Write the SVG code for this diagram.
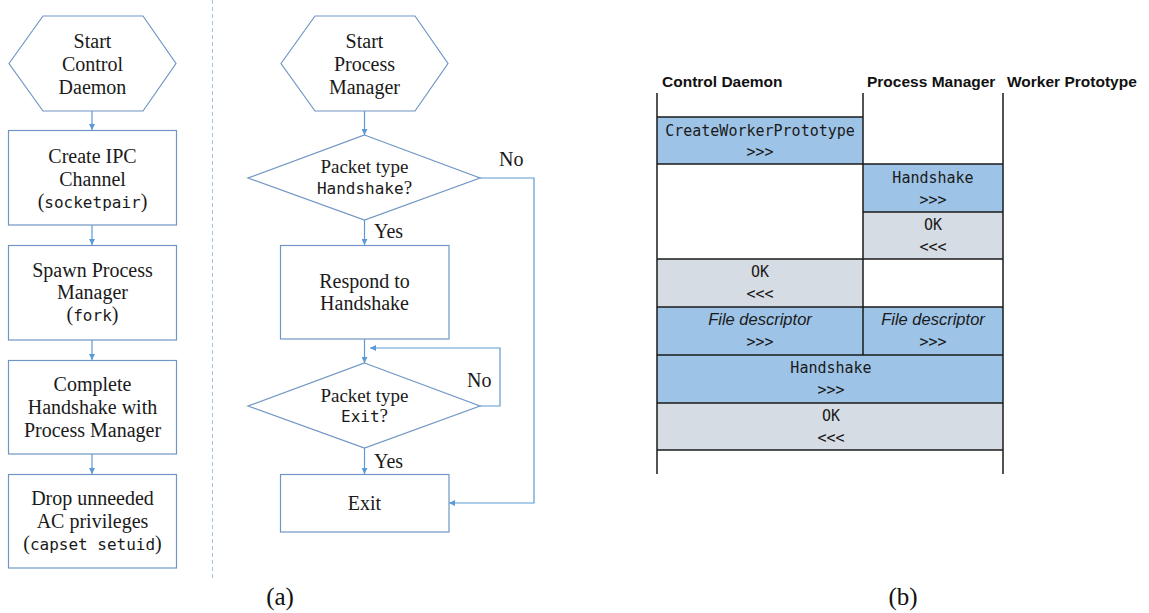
<svg xmlns="http://www.w3.org/2000/svg" width="1149" height="613" viewBox="0 0 1149 613">
<defs>
<marker id="ah" viewBox="0 0 10 10" refX="10" refY="5" markerWidth="6" markerHeight="6" orient="auto" markerUnits="userSpaceOnUse">
<path d="M0,0 L10,5 L0,10 z" fill="#5B9BD5"/>
</marker>
<style>
.shape{fill:#fff;stroke:#7096C4;stroke-width:1.2}
.conn{fill:none;stroke:#5B9BD5;stroke-width:1.2}
.t{font-family:"Liberation Serif","Times New Roman",serif;font-size:20px;fill:#1a1a1a;text-anchor:middle}
.s{font-size:19px}
.m{font-family:"DejaVu Sans Mono","Liberation Mono",monospace;font-size:16px}
.lbl{font-family:"Liberation Serif","Times New Roman",serif;font-size:20px;fill:#1a1a1a}
.hd{font-family:"Liberation Sans","Open Sans",sans-serif;font-weight:bold;font-size:15.5px;fill:#111}
.ct{font-family:"DejaVu Sans Mono","Liberation Mono",monospace;font-size:15px;fill:#1a1a1a;text-anchor:middle}
.it{font-family:"Liberation Sans","Open Sans",sans-serif;font-style:italic;font-size:16.5px;fill:#1a1a1a;text-anchor:middle}
.blue{fill:#9DC3E6}
.gray{fill:#D6DCE4}
.tl{stroke:#1a1a1a;stroke-width:1.5;fill:none}
.cap{font-family:"Liberation Serif","Times New Roman",serif;font-size:25px;fill:#111;text-anchor:middle}
</style>
</defs>
<rect width="1149" height="613" fill="#fff"/>

<!-- separator -->
<line x1="212.5" y1="0" x2="212.5" y2="578" stroke="#9DC3E6" stroke-width="1" stroke-dasharray="4,3"/>

<!-- connectors -->
<g id="connectors">
<line class="conn" x1="92" y1="111" x2="92" y2="130" marker-end="url(#ah)"/>
<line class="conn" x1="92" y1="225" x2="92" y2="245" marker-end="url(#ah)"/>
<line class="conn" x1="92" y1="340" x2="92" y2="360" marker-end="url(#ah)"/>
<line class="conn" x1="92" y1="454" x2="92" y2="474" marker-end="url(#ah)"/>
<line class="conn" x1="364.5" y1="111" x2="364.5" y2="135" marker-end="url(#ah)"/>
<line class="conn" x1="364.5" y1="220" x2="364.5" y2="245" marker-end="url(#ah)"/>
<line class="conn" x1="364.5" y1="339" x2="364.5" y2="363" marker-end="url(#ah)"/>
<line class="conn" x1="364.5" y1="448" x2="364.5" y2="474" marker-end="url(#ah)"/>
<path class="conn" d="M480,406 H500 V348 H370" marker-end="url(#ah)"/>
<path class="conn" d="M480,178 H534 V503 H449" marker-end="url(#ah)"/>
<text class="lbl" x="374" y="238">Yes</text>
<text class="lbl" x="374" y="468">Yes</text>
<text class="lbl" x="499" y="166">No</text>
<text class="lbl" x="467" y="387">No</text>
</g>

<!-- left column -->
<g id="start-cd">
<polygon class="shape" points="9,63.5 43,16 143,16 176,63.5 143,111 43,111"/>
<text class="t" x="92.5" y="48">Start</text>
<text class="t" x="92.5" y="71">Control</text>
<text class="t" x="92.5" y="94">Daemon</text>
</g>
<g id="create-ipc">
<rect class="shape" x="8.5" y="130.5" width="168" height="94.5"/>
<text class="t" x="92.5" y="163">Create IPC</text>
<text class="t" x="92.5" y="186">Channel</text>
<text class="t" x="92.5" y="208">(<tspan class="m">socketpair</tspan>)</text>
</g>
<g id="spawn-pm">
<rect class="shape" x="8.5" y="245.5" width="168" height="94.5"/>
<text class="t" x="92.5" y="277">Spawn Process</text>
<text class="t" x="92.5" y="299">Manager</text>
<text class="t" x="92.5" y="321">(<tspan class="m">fork</tspan>)</text>
</g>
<g id="complete-hs">
<rect class="shape" x="8.5" y="360.5" width="168" height="93.5"/>
<text class="t" x="92.5" y="391">Complete</text>
<text class="t" x="92.5" y="414">Handshake with</text>
<text class="t" x="92.5" y="437">Process Manager</text>
</g>
<g id="drop-priv">
<rect class="shape" x="8.5" y="474.5" width="168" height="93.5"/>
<text class="t" x="92.5" y="505">Drop unneeded</text>
<text class="t" x="92.5" y="528">AC privileges</text>
<text class="t" x="92.5" y="550">(<tspan class="m">capset setuid</tspan>)</text>
</g>

<!-- middle column -->
<g id="start-pm">
<polygon class="shape" points="281,63.5 315,16 415,16 448,63.5 415,111 315,111"/>
<text class="t" x="364.5" y="48">Start</text>
<text class="t" x="364.5" y="71">Process</text>
<text class="t" x="364.5" y="94">Manager</text>
</g>
<g id="dec-handshake">
<polygon class="shape" points="364.5,135 480,178 364.5,220 248,178"/>
<text class="t s" x="364.5" y="173">Packet type</text>
<text class="t s" x="364.5" y="194"><tspan class="m" font-size="15px">Handshake</tspan>?</text>
</g>
<g id="respond">
<rect class="shape" x="280.5" y="245.5" width="168.5" height="93.5"/>
<text class="t" x="364.5" y="288">Respond to</text>
<text class="t" x="364.5" y="310">Handshake</text>
</g>
<g id="dec-exit">
<polygon class="shape" points="364.5,363 480,406 364.5,448 248,406"/>
<text class="t s" x="364.5" y="402">Packet type</text>
<text class="t s" x="364.5" y="422"><tspan class="m" font-size="15px">Exit</tspan>?</text>
</g>
<g id="exit">
<rect class="shape" x="280.5" y="474.5" width="168.5" height="57.5"/>
<text class="t" x="364.5" y="510">Exit</text>
</g>

<!-- right table -->
<g id="table">
<text class="hd" x="662" y="87">Control Daemon</text>
<text class="hd" x="867" y="87">Process Manager</text>
<text class="hd" x="1007" y="87">Worker Prototype</text>
<rect class="blue" x="657" y="117" width="206" height="47"/>
<rect class="blue" x="863" y="164" width="140" height="48"/>
<rect class="gray" x="863" y="212" width="140" height="47"/>
<rect class="gray" x="657" y="259" width="206" height="48"/>
<rect class="blue" x="657" y="307" width="346" height="48"/>
<rect class="blue" x="657" y="355" width="346" height="48"/>
<rect class="gray" x="657" y="403" width="346" height="47"/>
<line class="tl" x1="657" y1="117" x2="863" y2="117"/>
<line class="tl" x1="657" y1="164" x2="1003" y2="164"/>
<line class="tl" x1="863" y1="212" x2="1003" y2="212"/>
<line class="tl" x1="657" y1="259" x2="1003" y2="259"/>
<line class="tl" x1="657" y1="307" x2="1003" y2="307"/>
<line class="tl" x1="657" y1="355" x2="1003" y2="355"/>
<line class="tl" x1="657" y1="403" x2="1003" y2="403"/>
<line class="tl" x1="657" y1="450" x2="1003" y2="450"/>
<line class="tl" x1="657" y1="93" x2="657" y2="474"/>
<line class="tl" x1="863" y1="93" x2="863" y2="355"/>
<line class="tl" x1="1003" y1="93" x2="1003" y2="474"/>
<text class="ct" x="760" y="136">CreateWorkerPrototype</text>
<text class="ct" x="760" y="157">&gt;&gt;&gt;</text>
<text class="ct" x="933" y="183">Handshake</text>
<text class="ct" x="933" y="205">&gt;&gt;&gt;</text>
<text class="ct" x="933" y="230">OK</text>
<text class="ct" x="933" y="252">&lt;&lt;&lt;</text>
<text class="ct" x="760" y="277">OK</text>
<text class="ct" x="760" y="299">&lt;&lt;&lt;</text>
<text class="it" x="760" y="325">File descriptor</text>
<text class="ct" x="760" y="347">&gt;&gt;&gt;</text>
<text class="it" x="933" y="325">File descriptor</text>
<text class="ct" x="933" y="347">&gt;&gt;&gt;</text>
<text class="ct" x="831" y="373">Handshake</text>
<text class="ct" x="831" y="395">&gt;&gt;&gt;</text>
<text class="ct" x="831" y="421">OK</text>
<text class="ct" x="831" y="443">&lt;&lt;&lt;</text>
</g>

<text class="cap" x="280" y="605">(a)</text>
<text class="cap" x="903" y="605">(b)</text>
</svg>
